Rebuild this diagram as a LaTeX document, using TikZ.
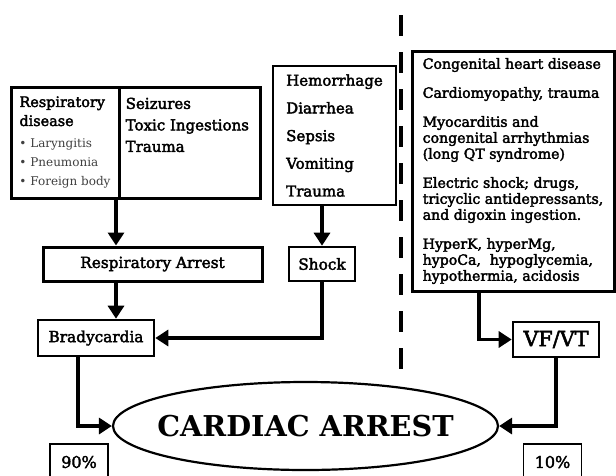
\documentclass[tikz,border=0pt]{standalone}
\usepackage{fontspec}
\setmainfont{DejaVu Serif}[FakeBold=2.5]
\newfontfamily\plainfont{DejaVu Serif}
\newfontfamily\heavyfont{DejaVu Serif Bold}
\usetikzlibrary{positioning,shapes.geometric,arrows.meta}

\begin{document}
\begin{tikzpicture}[x=1pt,y=-1pt,
		cell/.style={draw,line width=3pt,inner sep=0pt,align=left},
		lbl/.style={draw,line width=2.6pt,inner sep=0pt,font=\fontsize{15.3}{18}\selectfont},
		pct/.style={draw,line width=1.6pt,minimum width=58pt,minimum height=36pt,inner sep=0pt,font=\fontsize{16}{18}\selectfont},
		arr/.style={line width=3.5pt,-{Triangle[length=13pt,width=16pt]}}]
		\clip (0,0) rectangle (616,475);
		% causes, top row
		\node[cell,minimum width=108pt,minimum height=111pt,font=\fontsize{14.4}{19}\selectfont] (resp) at (65,142.5)
			{Respiratory\\disease\\[3pt]
			{\plainfont\fontsize{12}{19}\selectfont\color{black!75}\textbullet\ Laryngitis}\\
			{\plainfont\fontsize{12}{19}\selectfont\color{black!75}\textbullet\ Pneumonia}\\
			{\plainfont\fontsize{12}{19}\selectfont\color{black!75}\textbullet\ Foreign body}};
		\node[cell,minimum width=141pt,minimum height=111pt] (seiz) at (189.5,142.5) {};
		\node[anchor=north west,inner sep=0pt,align=left,font=\fontsize{15}{21.5}\selectfont] (seiztxt)
			at ([shift={(8,12)}]seiz.north west) {Seizures\\Toxic Ingestions\\Trauma};
		\node[cell,line width=2.4pt,minimum width=123pt,minimum height=139pt,font=\fontsize{15}{27.7}\selectfont] (hem) at (334.5,135.5)
			{Hemorrhage\\Diarrhea\\Sepsis\\Vomiting\\Trauma};
		\node[cell,minimum width=202pt,minimum height=240pt,font=\fontsize{14.1}{16}\selectfont] (causes) at (513,171)
			{Congenital heart disease\\[13pt]
			Cardiomyopathy, trauma\\[13pt]
			Myocarditis and\\congenital arrhythmias\\(long QT syndrome)\\[13pt]
			Electric shock; drugs,\\tricyclic antidepressants,\\and digoxin ingestion.\\[13pt]
			HyperK, hyperMg,\\hypoCa,\ \ hypoglycemia,\\hypothermia, acidosis};
		% middle
		\node[lbl,line width=3pt,minimum width=219pt,minimum height=34pt] (resparr) at (152.5,264) {Respiratory Arrest};
		\node[lbl,minimum width=66pt,minimum height=34pt] (shock) at (322,264) {Shock};
		\node[lbl,minimum width=116pt,minimum height=36pt] (brady) at (96,338) {Bradycardia};
		\node[lbl,minimum width=86pt,minimum height=35pt,font=\fontsize{20.7}{24}\selectfont] (vfvt) at (556,339.5) {VF/VT};
		% bottom
		\node[ellipse,draw,line width=2.2pt,minimum width=385pt,minimum height=88pt,inner sep=0pt,
			font=\heavyfont\fontsize{28.7}{32}\selectfont] (arrest) at (305.5,426) {\makebox[0pt]{CARDIAC ARREST}};
		\node[pct] (p90) at (79,462) {90\%};
		\node[pct] (p10) at (552.5,462) {10\%};

		\coordinate (colA) at (116,0);
		\coordinate (colB) at (479,0);
		\coordinate (colC) at (78,0);
		\coordinate (divtop) at (401,15);
		\coordinate (divbot) at (401,369);

		\draw[arr] (colA |- resp.south) -- (colA |- resparr.north);
		\draw[arr] (colA |- resparr.south) -- (colA |- brady.north);
		\draw[arr] (shock.north |- hem.south) -- (shock.north);
		\draw[arr] (shock.south) |- (brady.east);
		\draw[arr] (colB |- causes.south) |- (vfvt.west);
		\draw[arr] (colC |- brady.south) |- (arrest.west);
		\draw[arr] (vfvt.south) |- (arrest.east);
		% divider
		\draw[line width=4.5pt,dash pattern=on 21pt off 16pt] (divtop) -- (divbot);
	\end{tikzpicture}
\end{document}
